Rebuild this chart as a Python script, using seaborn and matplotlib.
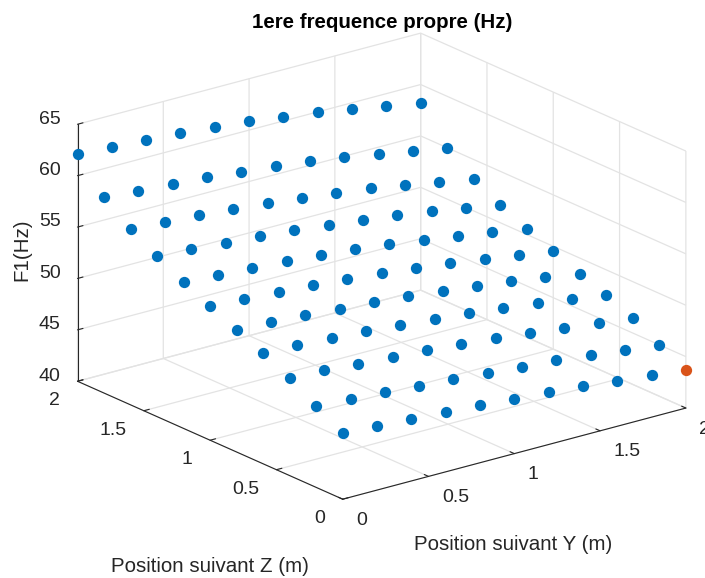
import numpy as np
import pandas as pd
import matplotlib
matplotlib.use("Agg")
import matplotlib.pyplot as plt
import seaborn as sns

# positions of the grid (m)
pos_y = [0, 0.2, 0.4, 0.6, 0.8, 1.0, 1.2, 1.4, 1.6, 1.8, 2.0]
pos_z = [0, 0.2, 0.4, 0.6, 0.8, 1.0, 1.2, 1.4, 1.6, 1.8, 2.0]

# first natural frequency (Hz), one list per Z position
f1_z00 = [46.45, 46.27, 46.04, 45.84, 45.63, 45.36, 45.06, 44.76, 44.43, 44.06, 43.70]
f1_z02 = [47.90, 47.69, 47.49, 47.25, 47.04, 46.74, 46.44, 46.14, 45.74, 45.34, 44.94]
f1_z04 = [49.52, 49.36, 49.11, 48.88, 48.65, 48.38, 48.04, 47.70, 47.31, 46.91, 46.45]
f1_z06 = [50.81, 50.64, 50.44, 50.23, 49.99, 49.69, 49.36, 48.99, 48.56, 48.09, 47.60]
f1_z08 = [51.90, 51.73, 51.53, 51.28, 51.02, 50.72, 50.35, 49.98, 49.52, 49.03, 48.46]
f1_z10 = [53.07, 52.84, 52.64, 52.40, 52.13, 51.80, 51.43, 51.00, 50.54, 50.01, 49.51]
f1_z12 = [54.26, 54.03, 53.85, 53.62, 53.32, 52.99, 52.59, 52.15, 51.65, 51.13, 50.54]
f1_z14 = [55.58, 55.38, 55.14, 54.87, 54.60, 54.23, 53.83, 53.38, 52.88, 52.32, 51.75]
f1_z16 = [57.12, 56.89, 56.65, 56.38, 56.08, 55.71, 55.31, 54.85, 54.32, 53.73, 53.13]
f1_z18 = [59.08, 58.81, 58.57, 58.34, 58.00, 57.66, 57.24, 56.74, 56.18, 55.58, 54.99]
f1_z20 = [62.15, 61.95, 61.74, 61.47, 61.17, 60.84, 60.40, 59.94, 59.41, 58.78, 58.16]

f1_rows = [f1_z00, f1_z02, f1_z04, f1_z06, f1_z08, f1_z10,
           f1_z12, f1_z14, f1_z16, f1_z18, f1_z20]

horizontal_ticks = [0, 0.5, 1, 1.5, 2]
horizontal_labels = ["0", "0.5", "1", "1.5", "2"]
f1_ticks = [40, 45, 50, 55, 60, 65]

# long table, the lowest frequency gets its own colour
df = pd.DataFrame(f1_rows, index=pos_z, columns=pos_y)
df = df.rename_axis(index="z", columns="y").reset_index().melt(id_vars="z", value_name="f1")
df["lowest"] = df["f1"] == df["f1"].min()

sns.set_theme(style="white")
plt.rcParams["font.family"] = ["Liberation Sans", "DejaVu Sans"]
palette = {False: "#0072BD", True: "#D95319"}
text_color = "#262626"

fig = plt.figure(figsize=(7.05, 5.78), dpi=100)
ax = fig.add_axes([0.1204, 0.026, 578 / 705, 1.0], projection="3d")
ax.set_proj_type("ortho")
ax.view_init(elev=20.1, azim=-127.7)
ax.set_box_aspect((1, 1, 0.631), zoom=1.128)

for lowest, group in df.groupby("lowest"):
    ax.scatter(group["y"], group["z"], group["f1"], color=palette[lowest],
               s=66, linewidths=0, depthshade=False, alpha=1, clip_on=False)

ax.set_xlim(0, 2, view_margin=0)
ax.set_ylim(0, 2, view_margin=0)
ax.set_zlim(40, 65, view_margin=0)
ax.set_xticks(horizontal_ticks)
ax.set_xticklabels(horizontal_labels)
ax.set_yticks(horizontal_ticks)
ax.set_yticklabels(horizontal_labels)
ax.set_zticks(f1_ticks)

for axis in [ax.xaxis, ax.yaxis, ax.zaxis]:
    axis.set_pane_color((1, 1, 1, 0))
    axis.pane.set_edgecolor((1, 1, 1, 0))
    axis.line.set_color(text_color)
    axis.line.set_linewidth(0.8)
    axis._axinfo["grid"].update(color="#e3e3e3", linewidth=0.9)
    axis._axinfo["tick"].update(inward_factor=0.0, outward_factor=0.2)
    axis._axinfo["tick"]["linewidth"] = {True: 0.8, False: 0.8}
    axis._axinfo["tick"]["color"] = text_color

ax.tick_params(axis="both", labelsize=14, colors=text_color)
ax.tick_params(axis="x", pad=3)
ax.tick_params(axis="y", pad=3)
ax.tick_params(axis="z", pad=-2)

# same anchors as the reference: labels hang off the axes, not centred on them
plt.setp(ax.get_xticklabels(), ha="left", va="center_baseline")
plt.setp(ax.get_yticklabels(), ha="right", va="center_baseline")
plt.setp(ax.get_zticklabels(), ha="right", va="baseline")

fig.text(382 / 705, 1 - 22 / 578, "1ere frequence propre (Hz)", ha="center", va="center",
         fontsize=14.8, fontweight="bold", color="black")
fig.text(513.5 / 705, 1 - 545 / 578, "Position suivant Y (m)", ha="center", va="center",
         fontsize=14.8, color=text_color)
fig.text(209.5 / 705, 1 - 567 / 578, "Position suivant Z (m)", ha="center", va="center",
         fontsize=14.8, color=text_color)
fig.text(22 / 705, 1 - 250 / 578, "F1(Hz)", ha="center", va="center", rotation=90,
         fontsize=14.8, color=text_color)

fig.savefig("out.png", dpi=100)
